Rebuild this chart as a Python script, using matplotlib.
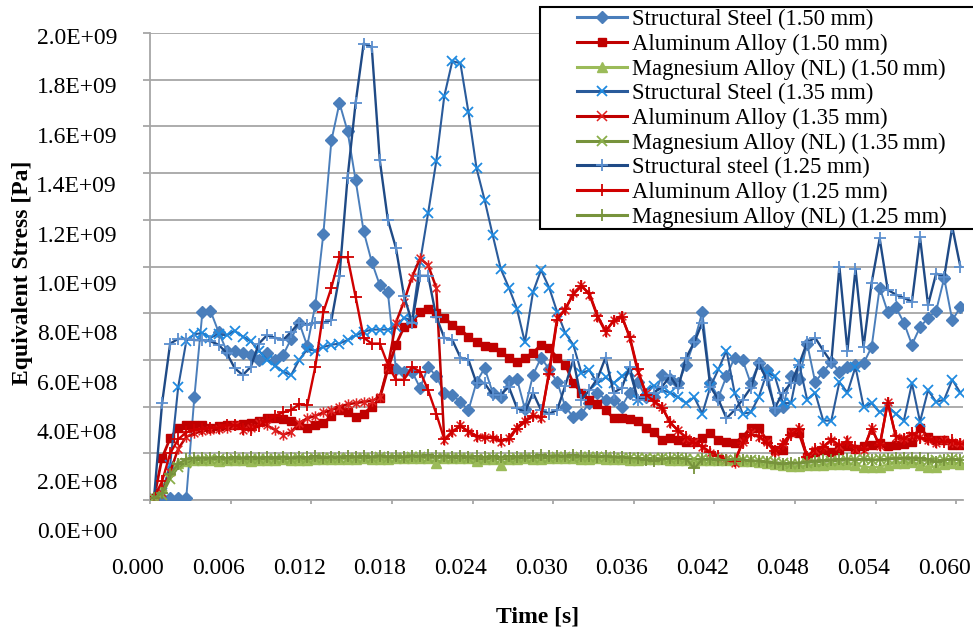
import numpy as np
import matplotlib
matplotlib.use('Agg')
import matplotlib.pyplot as plt
from matplotlib.path import Path
from matplotlib.lines import Line2D
from matplotlib.patches import Rectangle

plt.rcParams['font.family'] = ['Liberation Serif', 'DejaVu Serif']

# ---------------- data (stress in units of 1e8 Pa) ----------------
time_s = np.round(0.0003 + 0.0006 * np.arange(101), 4)

steel_150 = [0.1, 0.1, 0.1, 0.1, 0.1, 4.4, 8.05, 8.1, 7.2, 6.4,
             6.4, 6.3, 6.2, 6.0, 6.3, 6.0, 6.2, 6.9, 7.6, 6.6,
             8.35, 11.4, 15.4, 17.0, 15.8, 13.7, 11.5, 10.2, 9.2, 8.9,
             5.6, 5.5, 5.5, 4.8, 5.7, 5.3, 4.6, 4.5, 4.2, 3.85,
             5.05, 5.65, 4.6, 4.4, 5.1, 5.2, 3.9, 5.35, 6.1, 5.6,
             5.05, 4.0, 3.55, 3.7, 4.15, 4.6, 4.3, 4.3, 4.0, 4.6,
             5.05, 4.4, 4.4, 5.35, 5.2, 5.0, 5.8, 6.8, 8.05, 5.0,
             4.4, 5.3, 6.1, 6.0, 5.0, 5.85, 5.55, 3.85, 4.0, 5.3,
             5.2, 6.7, 5.05, 5.5, 5.9, 5.5, 5.7, 5.8, 5.85, 6.55,
             9.1, 8.05, 8.25, 7.6, 6.65, 7.4, 7.8, 8.1, 9.5, 7.7,
             8.25]

al_150 = [0.1, 1.8, 2.65, 3.1, 3.2, 3.2, 3.2, 3.1, 3.15, 3.2,
          3.2, 3.25, 3.3, 3.4, 3.5, 3.5, 3.45, 3.4, 3.2, 3.1,
          3.2, 3.3, 3.6, 3.85, 3.75, 3.55, 3.7, 4.0, 4.35, 5.6,
          6.65, 7.4, 7.6, 8.05, 8.2, 8.0, 7.8, 7.5, 7.3, 7.0,
          6.75, 6.6, 6.55, 6.35, 6.1, 5.9, 6.1, 6.3, 6.65, 6.5,
          6.1, 5.8, 5.0, 4.6, 4.3, 4.1, 3.85, 3.5, 3.5, 3.45,
          3.4, 3.1, 2.9, 2.55, 2.65, 2.55, 2.5, 2.5, 2.65, 2.85,
          2.55, 2.5, 2.45, 2.7, 3.1, 3.1, 2.55, 2.15, 2.15, 2.9,
          2.85, 1.85, 2.05, 2.15, 2.05, 2.15, 2.3, 2.2, 2.3, 2.35,
          2.45, 2.3, 2.35, 2.4, 2.5, 3.1, 2.7, 2.55, 2.55, 2.35,
          2.35]

mg_150 = [0.1, 0.5, 1.3, 1.6, 1.68, 1.7, 1.72, 1.7, 1.68, 1.7,
          1.72, 1.7, 1.68, 1.7, 1.72, 1.72, 1.74, 1.72, 1.7, 1.72,
          1.74, 1.75, 1.76, 1.74, 1.75, 1.77, 1.78, 1.76, 1.75, 1.77,
          1.78, 1.8, 1.78, 1.8, 1.79, 1.6, 1.78, 1.8, 1.79, 1.78,
          1.65, 1.77, 1.76, 1.52, 1.74, 1.76, 1.78, 1.77, 1.76, 1.78,
          1.79, 1.8, 1.78, 1.77, 1.76, 1.78, 1.77, 1.76, 1.74, 1.7,
          1.72, 1.74, 1.75, 1.74, 1.72, 1.73, 1.7, 1.62, 1.7, 1.72,
          1.73, 1.72, 1.7, 1.68, 1.66, 1.64, 1.6, 1.56, 1.5, 1.46,
          1.45, 1.48, 1.5, 1.52, 1.55, 1.56, 1.55, 1.5, 1.42, 1.4,
          1.42, 1.52, 1.58, 1.6, 1.62, 1.5, 1.4, 1.42, 1.55, 1.58,
          1.55]

steel_135 = [0.1, 0.3, 1.5, 4.85, 6.8, 7.1, 7.15, 6.95, 7.1, 7.05,
             7.25, 7.0, 6.8, 6.4, 6.0, 5.75, 5.5, 5.35, 6.0, 6.45,
             6.4, 6.55, 6.65, 6.7, 6.85, 7.05, 7.2, 7.3, 7.3, 7.3,
             7.4, 7.8, 7.7, 10.2, 12.3, 14.5, 17.3, 18.8, 18.7, 16.6,
             14.2, 12.85, 11.35, 9.9, 9.1, 8.2, 6.75, 8.9, 9.85, 9.1,
             8.05, 7.15, 6.65, 5.45, 5.55, 5.0, 5.25, 5.0, 5.3, 5.5,
             4.3, 4.7, 4.9, 4.7, 4.6, 4.4, 4.15, 4.4, 3.7, 4.85,
             5.6, 6.4, 4.6, 3.7, 3.75, 4.4, 5.45, 5.3, 4.15, 4.15,
             5.85, 4.3, 4.6, 3.4, 3.4, 5.05, 4.6, 5.7, 4.0, 4.15,
             3.75, 4.0, 3.7, 3.4, 5.0, 3.35, 4.7, 4.2, 4.3, 5.15,
             4.6]

al_135 = [0.1, 0.3, 1.2, 2.2, 2.7, 2.85, 2.95, 3.0, 3.05, 3.1,
          3.2, 3.0, 3.1, 3.3, 3.2, 3.0, 2.8, 2.9, 3.3, 3.5,
          3.6, 3.75, 3.85, 4.0, 4.1, 4.15, 4.2, 4.25, 4.4, 5.7,
          7.6, 8.5, 9.55, 10.35, 10.05, 9.1, 2.55, 2.9, 3.2, 2.9,
          2.7, 2.7, 2.65, 2.5, 2.65, 3.1, 3.4, 3.65, 3.5, 5.5,
          7.8, 8.15, 8.85, 9.2, 8.8, 7.85, 7.2, 7.7, 7.9, 6.95,
          5.5, 4.6, 4.2, 4.0, 3.3, 3.0, 2.65, 2.5, 2.25, 2.0,
          1.85, 1.75, 1.6, 2.5, 2.85, 2.7, 2.5, 2.05, 2.45, 2.85,
          3.1, 1.8, 2.15, 2.3, 2.55, 2.3, 2.55, 2.2, 2.15, 3.1,
          2.3, 4.2, 2.7, 2.65, 2.8, 2.7, 2.55, 2.45, 2.55, 2.5,
          2.45]

mg_135 = [0.1, 0.2, 0.9, 1.4, 1.6, 1.7, 1.72, 1.74, 1.75, 1.73,
          1.75, 1.76, 1.74, 1.75, 1.77, 1.76, 1.75, 1.77, 1.78, 1.76,
          1.78, 1.8, 1.78, 1.79, 1.8, 1.82, 1.8, 1.81, 1.83, 1.82,
          1.8, 1.82, 1.84, 1.83, 1.82, 1.8, 1.82, 1.8, 1.78, 1.8,
          1.76, 1.75, 1.78, 1.74, 1.76, 1.78, 1.8, 1.82, 1.8, 1.81,
          1.83, 1.84, 1.82, 1.83, 1.84, 1.85, 1.84, 1.82, 1.8, 1.78,
          1.8, 1.79, 1.8, 1.78, 1.76, 1.78, 1.76, 1.75, 1.74, 1.72,
          1.74, 1.73, 1.7, 1.72, 1.7, 1.68, 1.66, 1.62, 1.58, 1.55,
          1.56, 1.6, 1.62, 1.64, 1.66, 1.68, 1.7, 1.72, 1.74, 1.72,
          1.75, 1.74, 1.76, 1.74, 1.72, 1.7, 1.68, 1.7, 1.72, 1.74,
          1.72]

steel_125 = [0.1, 4.15, 6.7, 6.9, 6.9, 6.85, 6.85, 6.8, 6.65, 6.3,
             5.65, 5.35, 5.7, 6.7, 7.05, 6.95, 6.85, 7.2, 7.6, 7.5,
             7.6, 7.6, 7.7, 9.6, 13.8, 17.0, 19.55, 19.4, 14.55, 12.0,
             10.8, 8.75, 7.6, 9.6, 9.6, 7.85, 6.95, 6.85, 6.1, 6.0,
             5.0, 5.0, 4.5, 4.5, 4.85, 3.95, 3.75, 4.6, 3.85, 3.7,
             3.85, 4.9, 6.0, 4.3, 4.7, 5.2, 6.1, 4.6, 4.8, 5.7,
             4.3, 4.4, 4.6, 4.85, 5.3, 4.8, 6.1, 6.75, 7.6, 4.85,
             4.3, 3.5, 3.85, 4.3, 4.8, 5.85, 5.15, 3.95, 4.6, 5.0,
             5.8, 6.75, 6.95, 6.4, 5.9, 10.0, 6.4, 9.9, 6.55, 9.3,
             11.2, 9.0, 8.8, 8.65, 8.5, 11.25, 8.35, 9.7, 9.55, 11.7,
             10.0]

al_125 = [0.1, 0.8, 2.0, 2.6, 2.9, 3.0, 3.05, 3.1, 3.1, 3.2,
          3.2, 3.05, 3.0, 3.15, 3.4, 3.6, 3.75, 3.85, 4.1, 4.05,
          5.7, 8.05, 9.1, 10.4, 10.4, 8.7, 6.95, 6.7, 6.7, 5.8,
          5.15, 5.15, 5.7, 5.5, 4.7, 3.7, 2.6, 2.95, 3.15, 2.95,
          2.75, 2.65, 2.7, 2.55, 2.6, 3.05, 3.35, 3.6, 3.55, 5.4,
          7.7, 8.2, 8.8, 9.15, 8.85, 7.9, 7.25, 7.65, 7.85, 7.0,
          5.6, 4.5, 4.25, 3.95, 3.35, 2.95, 2.7, 2.45, 2.3, 2.05,
          1.9, 1.7, 1.65, 2.45, 2.8, 2.75, 2.45, 2.1, 2.4, 2.8,
          3.05, 1.85, 2.2, 2.25, 2.6, 2.35, 2.5, 2.25, 2.2, 3.05,
          2.35, 4.15, 2.75, 2.6, 2.85, 2.65, 2.6, 2.5, 2.5, 2.55,
          2.4]

mg_125 = [0.1, 0.3, 1.1, 1.55, 1.75, 1.8, 1.82, 1.78, 1.84, 1.8,
          1.83, 1.79, 1.85, 1.8, 1.84, 1.82, 1.86, 1.8, 1.85, 1.83,
          1.87, 1.82, 1.86, 1.84, 1.88, 1.85, 1.88, 1.84, 1.9, 1.86,
          1.88, 1.85, 1.9, 1.87, 1.91, 1.88, 1.9, 1.86, 1.89, 1.85,
          1.88, 1.84, 1.87, 1.85, 1.88, 1.86, 1.9, 1.87, 1.91, 1.88,
          1.9, 1.87, 1.92, 1.88, 1.9, 1.86, 1.88, 1.84, 1.86, 1.8,
          1.78, 1.72, 1.68, 1.74, 1.78, 1.8, 1.76, 1.35, 1.74, 1.76,
          1.72, 1.7, 1.74, 1.72, 1.68, 1.66, 1.62, 1.58, 1.55, 1.6,
          1.58, 1.62, 1.66, 1.7, 1.72, 1.74, 1.76, 1.72, 1.74, 1.7,
          1.72, 1.76, 1.78, 1.8, 1.82, 1.8, 1.76, 1.62, 1.7, 1.74,
          1.72]

series_labels = ['Structural Steel (1.50 mm)', 'Aluminum Alloy (1.50 mm)',
                 'Magnesium Alloy (NL) (1.50\u2009mm)', 'Structural Steel (1.35 mm)',
                 'Aluminum Alloy (1.35 mm)', 'Magnesium Alloy (NL) (1.35\u2009mm)',
                 'Structural steel (1.25 mm)', 'Aluminum Alloy (1.25 mm)',
                 'Magnesium Alloy (NL) (1.25 mm)']
series_values = [steel_150, al_150, mg_150, steel_135, al_135, mg_135,
                 steel_125, al_125, mg_125]

xtick_values = [0.000, 0.006, 0.012, 0.018, 0.024, 0.030, 0.036, 0.042, 0.048, 0.054, 0.060]
xtick_labels = ['0.000', '0.006', '0.012', '0.018', '0.024', '0.030',
                '0.036', '0.042', '0.048', '0.054', '0.060']
ytick_values = [0, 2e8, 4e8, 6e8, 8e8, 1e9, 1.2e9, 1.4e9, 1.6e9, 1.8e9, 2e9]
ytick_labels = ['0.0E+00', '2.0E+08', '4.0E+08', '6.0E+08', '8.0E+08', '1.0E+09',
                '1.2E+09', '1.4E+09', '1.6E+09', '1.8E+09', '2.0E+09']
SCALE = 1e8

for v in series_values:
    assert len(v) == len(time_s), len(v)

# ---------------- styles ----------------
star = Path([(-1, -1), (1, 1), (-1, 1), (1, -1), (0, -1.35), (0, 1.35)],
            [Path.MOVETO, Path.LINETO, Path.MOVETO, Path.LINETO, Path.MOVETO, Path.LINETO])

styles = [
    dict(color='#4A7EBB', lw=1.4, marker='D', ms=6.5, mfc='#4A7EBB', mec='#4A7EBB', mew=1.0),
    dict(color='#C00000', lw=2.0, marker='s', ms=5.5, mfc='#C00000', mec='#C00000', mew=1.0),
    dict(color='#9BBB59', lw=1.6, marker='^', ms=7, mfc='#9BBB59', mec='#9BBB59', mew=1.0),
    dict(color='#2A5B9B', lw=1.5, marker='x', ms=7.5, mfc='none', mec='#1F8AE0', mew=1.3),
    dict(color='#C00000', lw=1.8, marker=star, ms=7.5, mfc='none', mec='#E0201F', mew=1.1),
    dict(color='#77933C', lw=1.6, marker='x', ms=7.5, mfc='none', mec='#8AAE4A', mew=1.3),
    dict(color='#1F4A86', lw=1.7, marker='+', ms=9, mfc='none', mec='#5B8FCF', mew=1.3),
    dict(color='#D00000', lw=1.7, marker='+', ms=9, mfc='none', mec='#D00000', mew=1.3),
    dict(color='#77933C', lw=1.6, marker='+', ms=9, mfc='none', mec='#77933C', mew=1.3),
]
legend_markers = ['D', 's', '^', 'x', 'x', 'x', '+', '+', '+']

W, H = 973, 632
fig = plt.figure(figsize=(W / 100, H / 100), dpi=100)
fig.patch.set_facecolor('white')

ax_left, ax_right, ax_top, ax_bottom = 150, 963, 33, 500
ax = fig.add_axes([ax_left / W, 1 - ax_bottom / H, (ax_right - ax_left) / W, (ax_bottom - ax_top) / H])

for i, (vals, st) in enumerate(zip(series_values, styles)):
    ax.plot(time_s, np.array(vals) * SCALE, zorder=3 + i * 0.01, **st)

grid_c = '#A6A6A6'
ax.set_xlim(0, 0.0605)
ax.set_ylim(0, 2.0e9)
ax.set_xticks(xtick_values)
ax.set_yticks(ytick_values)
ax.grid(axis='y', color=grid_c, lw=1.3)
ax.set_axisbelow(True)
for s in ['top', 'right']:
    ax.spines[s].set_visible(False)
for s in ['left', 'bottom']:
    ax.spines[s].set_color(grid_c)
    ax.spines[s].set_linewidth(1.3)
ax.tick_params(axis='y', direction='out', length=5, width=1.3, color=grid_c, labelleft=False)
ax.tick_params(axis='x', direction='out', length=3, width=1.3, color=grid_c, labelbottom=False)

# tick labels (placed as in the reference, slightly offset from the grid)
lab_y = fig.add_axes([117 / W, 1 - 530 / H, 0.0001, (530 - 36) / H], frameon=False)
lab_y.set_ylim(0, 2.0e9)
lab_y.set_yticks(ytick_values)
lab_y.set_yticklabels(ytick_labels)
lab_y.tick_params(axis='y', length=0, pad=0, labelsize=17)
lab_y.xaxis.set_visible(False)

lab_x = fig.add_axes([(ax_left - 12) / W, 1 - ax_bottom / H, (ax_right - ax_left) / W, 0.0001], frameon=False)
lab_x.set_xlim(0, 0.0605)
lab_x.set_xticks(xtick_values)
lab_x.set_xticklabels(xtick_labels)
lab_x.tick_params(axis='x', length=0, pad=42, labelsize=17)
lab_x.yaxis.set_visible(False)

fig.text(538 / W, 1 - 617 / H, 'Time [s]', ha='center', va='center', fontsize=17, fontweight='bold')
fig.text(23 / W, 1 - 273 / H, 'Equivalent Stress [Pa]', rotation=90, ha='center', va='center',
         fontsize=17, fontweight='bold')

# legend
handles = []
for st, mk in zip(styles, legend_markers):
    h = Line2D([], [], color=st['color'], lw=2.2, marker=mk, ms=st['ms'],
               mfc=st['mfc'], mec=st['mec'], mew=st['mew'])
    handles.append(h)
fig.add_artist(Rectangle((540 / W, 1 - 229 / H), (1000 - 540) / W, (229 - 7) / H,
                         transform=fig.transFigure, facecolor='white', edgecolor='black',
                         lw=1.5, zorder=3, clip_on=False))
leg = fig.legend(handles, series_labels, loc='upper left', bbox_to_anchor=(577 / W, 1 - 9 / H),
                 frameon=False, fontsize=16.3, handlelength=2.2, handletextpad=0.22,
                 labelspacing=0.155, borderpad=0, borderaxespad=0)
leg.set_zorder(5)

fig.savefig('out.png', dpi=100)
